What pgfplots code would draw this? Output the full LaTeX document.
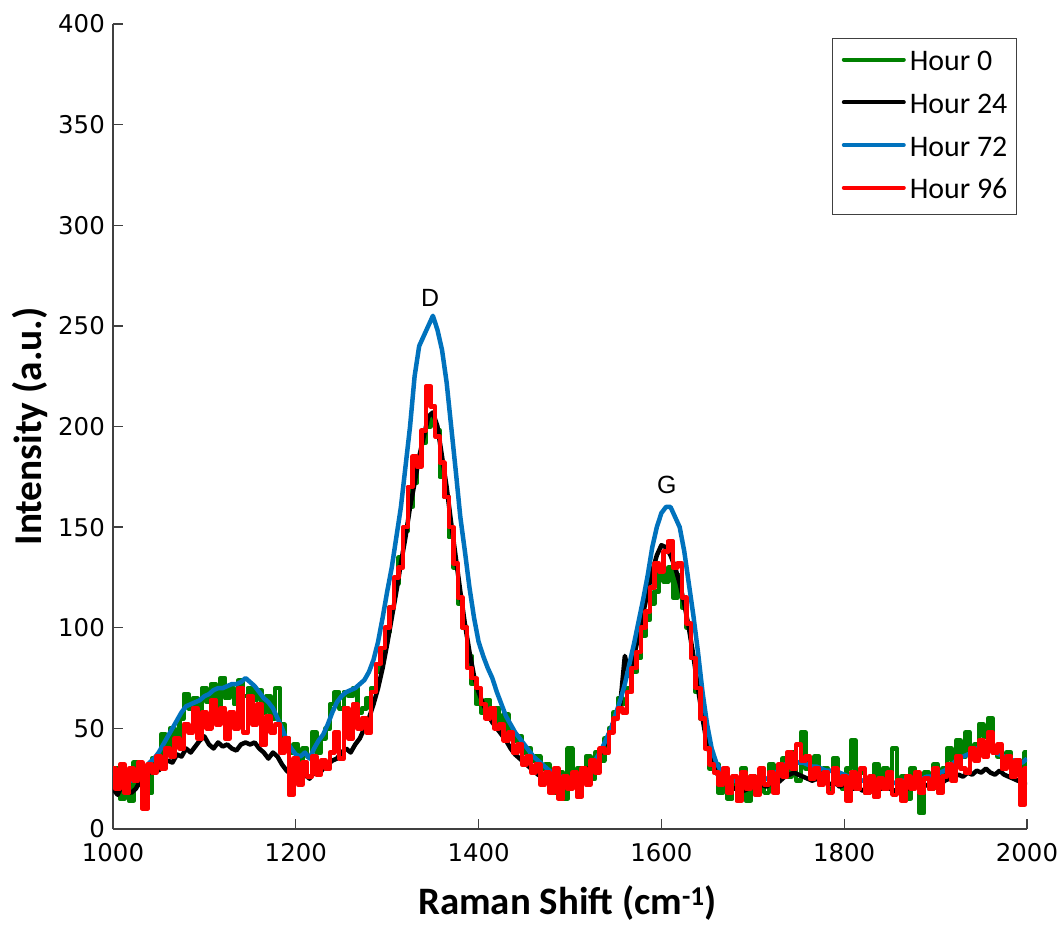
\documentclass[border=0pt]{standalone}
\usepackage{pgfplots}
\pgfplotsset{compat=1.18}
\usepackage{pgfplotstable}
\usepackage{fontspec}
\setmainfont{Carlito}
\newfontfamily\dejavu{DejaVu Sans}
\newfontfamily\arialf{Liberation Sans}
\definecolor{mgreen}{RGB}{0,128,0}
\definecolor{mblue}{RGB}{0,114,189}
\definecolor{mred}{RGB}{255,0,0}
\definecolor{axgray}{RGB}{64,64,64}

% x, Hour 0 (g), Hour 24 (k), Hour 72 (b), Hour 96 (r)
\pgfplotstableread{
x g k b r
1000 22 20 28 30
1005 30 17 26 20
1010 15 22 25 32
1015 27 19 27 18
1020 14 18 24 30
1025 33 20 27 24
1030 22 24 29 33
1035 28 26 30 10
1040 18 28 33 32
1045 35 30 35 28
1050 30 29 38 36
1055 47 32 42 30
1060 38 34 46 40
1065 50 33 50 36
1070 42 37 54 45
1075 55 36 58 40
1080 67 40 61 52
1085 60 38 62 48
1090 65 41 63 60
1095 58 44 64 45
1100 70 46 66 58
1105 63 42 67 50
1110 72 40 69 64
1115 60 43 70 52
1120 75 41 70 60
1125 65 42 71 45
1130 70 40 72 58
1135 62 39 72 50
1140 74 42 73 70
1145 66 43 75 48
1150 70 42 73 66
1155 64 43 71 52
1160 69 40 68 62
1165 58 38 65 42
1170 66 35 63 56
1175 55 38 60 48
1180 70 36 55 52
1185 52 32 50 38
1190 45 29 44 45
1195 38 27 40 17
1200 42 25 37 35
1205 33 24 36 22
1210 40 27 38 33
1215 36 25 35 26
1220 48 28 40 36
1225 38 27 44 27
1230 45 30 47 34
1235 50 32 52 30
1240 62 34 58 38
1245 68 35 63 48
1250 60 38 66 35
1255 68 40 68 60
1260 66 38 69 45
1265 70 42 70 62
1270 58 45 72 50
1275 60 50 74 55
1280 65 55 78 48
1285 70 62 84 68
1290 78 70 93 82
1295 88 80 105 90
1300 98 92 118 100
1305 110 105 130 110
1310 122 118 145 125
1315 135 132 160 130
1320 148 145 180 150
1325 160 160 200 170
1330 172 172 225 185
1335 182 185 240 180
1340 192 195 245 198
1345 200 205 250 220
1350 205 207 255 210
1355 198 200 248 195
1360 175 185 238 182
1365 165 170 222 165
1370 145 152 200 150
1375 130 135 178 132
1380 112 118 155 115
1385 100 102 138 100
1390 86 88 120 80
1395 72 76 105 75
1400 62 68 93 70
1405 58 62 86 62
1410 64 57 80 55
1415 56 53 75 60
1420 60 50 68 50
1425 52 47 62 52
1430 57 44 56 44
1435 48 40 52 48
1440 44 37 48 38
1445 46 35 45 42
1450 38 33 42 32
1455 40 31 39 36
1460 34 29 36 28
1465 36 27 34 32
1470 30 26 32 22
1475 32 25 30 28
1480 26 24 28 18
1485 18 23 27 30
1490 28 23 26 15
1495 15 22 25 26
1500 40 23 24 20
1505 22 24 24 28
1510 30 26 25 16
1515 28 28 27 30
1520 36 30 29 22
1525 25 32 32 34
1530 38 35 36 28
1535 34 39 40 40
1540 45 44 45 38
1545 50 50 50 48
1550 58 56 57 55
1555 65 62 64 60
1560 62 86 72 58
1565 70 76 82 68
1570 78 86 92 80
1575 85 96 103 88
1580 96 107 114 100
1585 104 118 126 108
1590 112 128 140 120
1595 118 136 150 132
1600 128 141 157 128
1605 123 140 160 138
1610 130 136 160 143
1615 115 130 155 130
1620 126 122 150 132
1625 110 112 138 115
1630 100 100 122 102
1635 85 86 106 85
1640 68 70 88 70
1645 55 55 68 55
1650 42 42 52 40
1655 30 34 40 32
1660 32 28 33 28
1665 18 25 29 22
1670 26 23 26 30
1675 15 21 25 18
1680 22 20 24 26
1685 20 21 23 14
1690 30 19 22 28
1695 14 20 22 20
1700 26 21 23 26
1705 20 20 24 17
1710 28 22 24 30
1715 18 21 25 22
1720 32 23 26 28
1725 22 22 28 18
1730 30 24 30 32
1735 35 26 32 26
1740 26 27 33 38
1745 38 28 34 30
1750 24 27 33 42
1755 48 26 33 34
1760 30 25 32 36
1765 28 24 31 25
1770 36 25 31 30
1775 24 23 30 22
1780 30 24 29 28
1785 20 22 29 18
1790 35 23 28 30
1795 26 21 28 22
1800 20 22 27 26
1805 30 21 26 14
1810 44 20 25 28
1815 22 21 25 20
1820 28 19 24 30
1825 18 20 24 18
1830 25 21 23 26
1835 32 19 23 16
1840 20 20 23 25
1845 30 21 23 20
1850 22 20 22 28
1855 40 19 23 17
1860 18 20 23 24
1865 26 21 24 14
1870 15 20 24 26
1875 30 22 25 20
1880 22 21 25 28
1885 8 20 25 18
1890 28 22 26 25
1895 20 21 26 20
1900 32 23 27 30
1905 24 22 28 18
1910 30 24 29 26
1915 40 25 31 32
1920 34 26 33 24
1925 44 27 35 36
1930 36 26 36 30
1935 48 28 37 28
1940 38 27 38 40
1945 42 29 40 34
1950 52 28 41 44
1955 46 30 40 36
1960 55 28 39 48
1965 40 27 38 38
1970 36 29 37 42
1975 32 27 36 30
1980 38 26 35 36
1985 28 25 34 26
1990 34 24 33 34
1995 30 23 33 12
2000 38 22 35 30
}\spectra

\begin{document}
\begin{tikzpicture}
\begin{axis}[
  at={(0bp,0bp)}, anchor=south west,
  scale only axis, width=914bp, height=805bp,
  xmin=1000, xmax=2000, ymin=0, ymax=400,
  axis lines=left,
  axis line style={-, draw=axgray, line width=1.3bp},
  tick align=inside, major tick length=10bp,
  tick style={draw=axgray, line width=1.3bp},
  xtick={1000,1200,...,2000}, ytick={0,50,...,400},
  /pgf/number format/assume math mode=true,
  /pgf/number format/1000 sep={},
  tick label style={font=\dejavu\fontsize{24.5}{28}\selectfont, text=black},
  yticklabel style={inner sep=0pt, xshift=-8bp},
  xticklabel style={inner sep=0pt, yshift=-14bp},
  xlabel={Raman Shift (cm\textsuperscript{-1})},
  ylabel={Intensity (a.u.)},
  xlabel style={at={(axis description cs:0.4973,-0.1056)}, anchor=base, font=\bfseries\fontsize{39}{43}\selectfont},
  ylabel style={at={(axis description cs:-0.0908,0.5)}, anchor=center, font=\bfseries\fontsize{39.5}{43}\selectfont},
  no markers,
  every axis plot/.append style={line width=4.5bp, line join=round},
  legend cell align=left,
  legend style={at={(0.989,0.9826)}, anchor=north east, draw=axgray, line width=1.2bp, fill=white,
    inner xsep=9bp, inner ysep=12bp, row sep=18.7bp, column sep=4bp,
    font=\fontsize{30}{32}\selectfont,
    nodes={inner sep=0pt, text height=20bp, text depth=4bp}},
  legend image code/.code={\draw[#1, line width=4bp, line cap=round] (0bp,0.3em) -- (60bp,0.3em);},
]
\addplot[mgreen, const plot mark mid] table[x=x, y=g] {\spectra};
\addplot[black] table[x=x, y=k] {\spectra};
\addplot[mblue] table[x=x, y=b] {\spectra};
\addplot[mred, const plot mark mid] table[x=x, y=r] {\spectra};
\legend{Hour 0, Hour 24, Hour 72, Hour 96}
\node[font=\arialf\fontsize{25}{28}\selectfont] at (axis cs:1347,264) {D};
\node[font=\arialf\fontsize{25}{28}\selectfont] at (axis cs:1606,171) {G};
\end{axis}
\pgfresetboundingbox
\path[use as bounding box] (-113bp,-98bp) rectangle (950bp,829bp);
\end{tikzpicture}
\end{document}
